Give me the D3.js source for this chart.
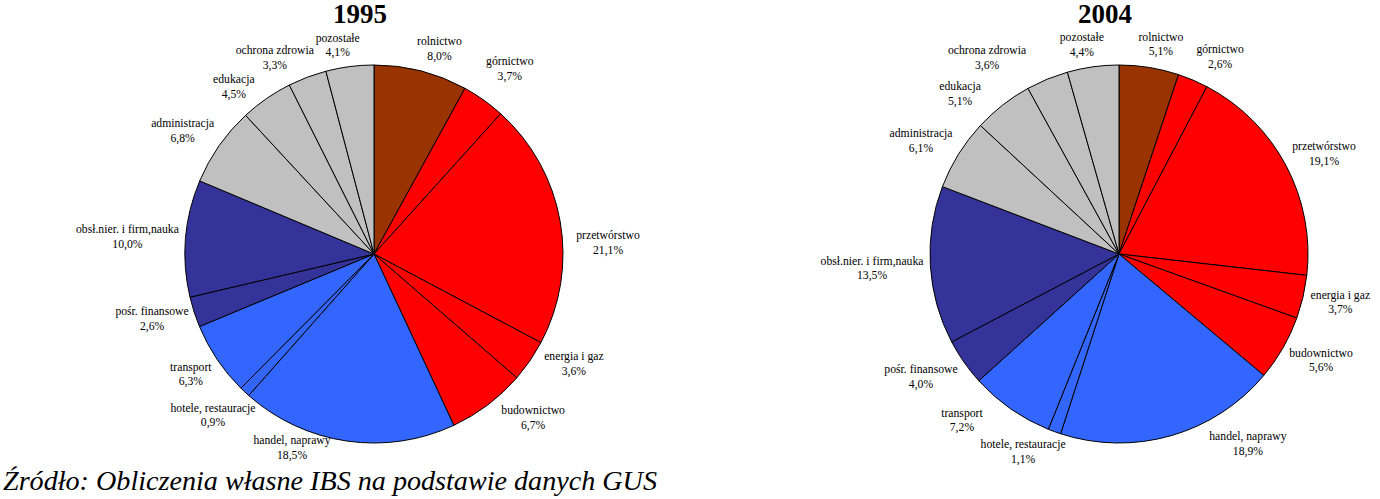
<!DOCTYPE html>
<html>
<head>
<meta charset="utf-8">
<script src="https://cdn.jsdelivr.net/npm/d3@7"></script>
<style>
  html, body { margin: 0; padding: 0; background: #fff; }
  svg { display: block; }
  svg text { font-family: "Liberation Serif", "Times New Roman", Times, serif; }
</style>
</head>
<body>
<svg id="chart" width="1380" height="499"></svg>
<script>
// ---- data ----
const categories = [
  "rolnictwo", "górnictwo", "przetwórstwo", "energia i gaz", "budownictwo",
  "handel, naprawy", "hotele, restauracje", "transport", "pośr. finansowe",
  "obsł.nier. i firm,nauka", "administracja", "edukacja", "ochrona zdrowia", "pozostałe"
];
const years = ["1995", "2004"];
const values1995 = [8.0, 3.7, 21.1, 3.6, 6.7, 18.5, 0.9, 6.3, 2.6, 10.0, 6.8, 4.5, 3.3, 4.1];
const values2004 = [5.1, 2.6, 19.1, 3.7, 5.6, 18.9, 1.1, 7.2, 4.0, 13.5, 6.1, 5.1, 3.6, 4.4];
const groups = ["agri", "ind", "ind", "ind", "ind", "serv", "serv", "serv", "fin", "fin", "pub", "pub", "pub", "pub"];
const sourceText = "Źródło: Obliczenia własne IBS na podstawie danych GUS";

// ---- layout (label placement, polar: degrees clockwise from 12 o'clock, px) ----
const labelAngle1995 = [17.4, 35.7, 86.4, 117.9, 135.2, 203.3, 225.6, 237.5, 254.6, 274.9, 303.5, 320.6, 333.6, 350.3];
const labelDist1995  = [219, 232.7, 234.5, 226.2, 225.8, 207.2, 225.4, 217.2, 230.2, 247.5, 229.5, 220.8, 223, 215.4];
const labelAngle2004 = [11.1, 26.7, 63.1, 101.4, 116.9, 145.3, 206.3, 224, 239, 267.5, 300.6, 315.9, 326.6, 350.1];
const labelDist2004  = [217.4, 225, 229.9, 225.8, 226.6, 226.4, 216.5, 226.1, 231, 247.2, 230, 228.4, 239.6, 216.2];

const color = d3.scaleOrdinal()
  .domain(["agri", "ind", "serv", "fin", "pub"])
  .range(["#993300", "#FF0000", "#3366FF", "#333399", "#C0C0C0"]);

const svg = d3.select("#chart");
const R = 189;
const fmt = v => d3.format(".1f")(v).replace(".", ",") + "%";

const pies = [
  { year: years[0], values: values1995, cx: 374, cy: 254, la: labelAngle1995, ld: labelDist1995 },
  { year: years[1], values: values2004, cx: 1119, cy: 254, la: labelAngle2004, ld: labelDist2004 }
];

const pie = d3.pie().sort(null).value(d => d.v);
const arc = d3.arc().innerRadius(0).outerRadius(R);

pies.forEach(p => {
  const data = categories.map((c, i) => ({ c, v: p.values[i], g: groups[i], i }));
  const g = svg.append("g").attr("transform", `translate(${p.cx},${p.cy})`);
  g.selectAll("path").data(pie(data)).join("path")
    .attr("d", arc)
    .attr("fill", d => color(d.data.g))
    .attr("stroke", "#000")
    .attr("stroke-width", 1)
    .attr("stroke-linejoin", "round");

  const lab = g.selectAll("g.lab").data(data).join("g").attr("class", "lab")
    .attr("transform", d => {
      const a = p.la[d.i] * Math.PI / 180;
      return `translate(${p.ld[d.i] * Math.sin(a)},${-p.ld[d.i] * Math.cos(a)})`;
    });
  lab.append("text").attr("text-anchor", "middle")
    .style("font-size", "11.7px").attr("fill", "#000")
    .text(d => d.c);
  lab.append("text").attr("text-anchor", "middle").attr("y", 14.7)
    .style("font-size", "11.7px").attr("fill", "#000")
    .text(d => fmt(d.v));

  svg.append("text")
    .attr("x", p.cx - 14).attr("y", 23)
    .attr("text-anchor", "middle")
    .style("font-weight", "bold").style("font-size", "27px")
    .text(p.year);
});

svg.append("text")
  .attr("x", 3).attr("y", 490)
  .style("font-style", "italic").style("font-size", "27px")
  .attr("textLength", 654).attr("lengthAdjust", "spacingAndGlyphs")
  .text(sourceText);
</script>
</body>
</html>
